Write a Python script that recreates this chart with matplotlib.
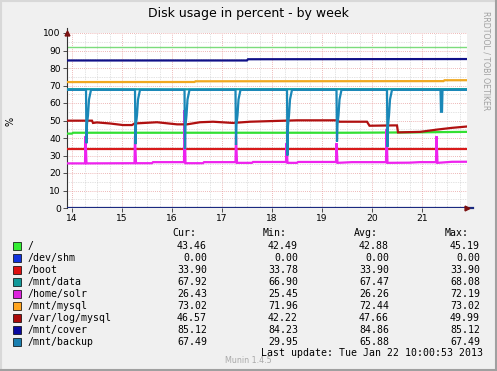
import numpy as np
import matplotlib
matplotlib.use("Agg")
import matplotlib.pyplot as plt
from matplotlib.patches import Rectangle
from matplotlib.lines import Line2D

W, H = 497, 371

# ---- series data (x in days of January, y in percent) ----
root_t = [13.9, 14.0, 14.02, 17.0, 19.5, 20.8, 21.5, 21.9]
root_v = [42.5, 42.5, 43.0, 43.0, 43.0, 43.2, 43.4, 43.5]

shm_t = [13.9, 21.9]
shm_v = [0.0, 0.0]

boot_t = [13.9, 21.9]
boot_v = [33.9, 33.9]

data_t = [13.9, 16.0, 18.0, 20.0, 21.9]
data_v = [67.9, 67.8, 67.9, 67.9, 67.92]

solr_t = [13.9, 14.26, 14.27, 14.29, 15.25, 15.26, 15.28, 15.6, 15.62,
          16.24, 16.25, 16.27, 16.62, 16.64, 17.27, 17.28, 17.30, 17.6,
          17.62, 18.28, 18.29, 18.31, 18.5, 18.52, 19.28, 19.29, 19.31,
          19.6, 20.28, 20.29, 20.31, 20.75, 20.95, 21.28, 21.29, 21.31,
          21.6, 21.9]
solr_v = [25.5, 25.5, 41.0, 25.5, 25.6, 41.0, 25.6, 25.6, 26.2,
          26.2, 56.0, 25.6, 25.6, 26.2, 26.2, 41.0, 25.8, 25.8,
          26.3, 26.3, 37.0, 25.8, 25.8, 26.3, 26.3, 37.0, 25.8,
          26.2, 26.2, 45.0, 25.8, 25.9, 26.2, 26.2, 41.0, 25.8,
          26.4, 26.43]

mysql_t = [13.9, 16.45, 16.47, 21.43, 21.45, 21.9]
mysql_v = [71.96, 72.0, 72.4, 72.5, 73.0, 73.02]

varlog_t = [13.9, 14.40, 14.42, 14.5, 14.76, 15.02, 15.2, 15.25, 15.7,
            16.1, 16.3, 16.56, 16.82, 17.22, 17.56, 18.02, 18.5, 19.3,
            19.35, 19.9, 19.95, 20.42, 20.5, 20.52, 20.96, 21.3, 21.6, 21.9]
varlog_v = [49.9, 49.9, 48.6, 48.9, 48.3, 47.4, 47.4, 48.3, 49.0,
            47.8, 47.8, 49.0, 49.3, 48.6, 49.3, 49.7, 50.1, 50.1,
            49.3, 49.3, 47.0, 47.2, 47.2, 43.2, 43.5, 44.8, 45.8, 46.57]

cover_t = [13.9, 17.5, 17.52, 21.9]
cover_v = [84.3, 84.3, 85.0, 85.12]

backup_t = [13.9,
            14.28, 14.29, 14.30, 14.32, 14.34, 14.38,
            15.26, 15.27, 15.28, 15.30, 15.32, 15.36,
            16.25, 16.26, 16.27, 16.29, 16.31, 16.35,
            17.27, 17.28, 17.29, 17.31, 17.33, 17.37,
            18.30, 18.31, 18.32, 18.34, 18.36, 18.40,
            19.29, 19.30, 19.31, 19.33, 19.35, 19.39,
            20.30, 20.31, 20.32, 20.34, 20.36, 20.40,
            21.37, 21.38, 21.40, 21.41,
            21.9]
backup_v = [67.5,
            67.5, 37.0, 48.0, 53.0, 62.0, 67.5,
            67.5, 36.5, 48.0, 53.0, 62.0, 67.5,
            67.5, 34.0, 47.0, 53.0, 62.0, 67.5,
            67.5, 36.0, 48.0, 53.0, 62.0, 67.5,
            67.5, 30.0, 47.0, 53.0, 62.0, 67.5,
            67.5, 38.0, 48.0, 53.0, 62.0, 67.5,
            67.5, 35.0, 47.0, 53.0, 62.0, 67.5,
            67.5, 55.0, 55.0, 67.5,
            67.49]

warn_level = 92

# ---- legend table ----
names = ["/", "/dev/shm", "/boot", "/mnt/data", "/home/solr", "/mnt/mysql",
         "/var/log/mysql", "/mnt/cover", "/mnt/backup"]
cur = ["43.46", "0.00", "33.90", "67.92", "26.43", "73.02", "46.57", "85.12", "67.49"]
mins = ["42.49", "0.00", "33.78", "66.90", "25.45", "71.96", "42.22", "84.23", "29.95"]
avgs = ["42.88", "0.00", "33.90", "67.47", "26.26", "72.44", "47.66", "84.86", "65.88"]
maxs = ["45.19", "0.00", "33.90", "68.08", "72.19", "73.02", "49.99", "85.12", "67.49"]
colors = ["#33ee33", "#1133dd", "#dd1111", "#119999", "#dd22dd", "#ffa520",
          "#aa0a0a", "#0a0aa0", "#1a7fb0"]
line_colors = ["#33e033", "#1a2a80", "#d81a1a", "#10a0a0", "#ee22ee", "#f0a820",
               "#b01010", "#101088", "#1a88b8"]

series = [(root_t, root_v), (shm_t, shm_v), (boot_t, boot_v), (data_t, data_v),
          (solr_t, solr_v), (mysql_t, mysql_v), (varlog_t, varlog_v),
          (cover_t, cover_v), (backup_t, backup_v)]

days = [14, 15, 16, 17, 18, 19, 20, 21]


def fx(px):
    return px / W


def fy(py):
    return 1 - py / H


fig = plt.figure(figsize=(W / 100, H / 100), dpi=100, facecolor="#f0f0f0")
ax = fig.add_axes([fx(67), fy(208), fx(467) - fx(67), fy(33) - fy(208)])
ax.set_facecolor("white")

ax.set_xlim(13.9, 21.9)
ax.set_ylim(0, 100)

# grid
ax.set_xticks(days)
ax.set_xticks(np.arange(14, 22, 0.25), minor=True)
ax.set_yticks(range(0, 101, 10))
ax.set_yticks(range(0, 101, 5), minor=True)
ax.grid(which="minor", color="#c8c8c8", linestyle=(0, (1, 1.5)), linewidth=0.5)
ax.grid(which="major", color="#e8a0a0", linestyle=(0, (1, 1.5)), linewidth=0.6)
ax.set_axisbelow(True)

ax.axhline(warn_level, color="#7cdc7c", linewidth=1.0, zorder=2)

for (t, v), c in zip(series, line_colors):
    ax.plot(t, v, color=c, linewidth=1.6, solid_joinstyle="miter", zorder=3)

for s in ["top", "right", "bottom"]:
    ax.spines[s].set_visible(False)
ax.spines["left"].set_color("#333333")
ax.spines["left"].set_linewidth(0.8)
ax.tick_params(axis="both", which="major", length=3, width=0.6, color="#333333",
               labelsize=6.6, pad=1.5)
ax.tick_params(axis="both", which="minor", length=0)
ax.set_xticklabels([str(d) for d in days])

# axis arrows
ax.plot([0], [1.0], marker="^", color="#7a1010", markersize=3.5, clip_on=False,
        transform=ax.transAxes, zorder=5)
ax.plot([1.0], [0], marker=">", color="#7a1010", markersize=3.5, clip_on=False,
        transform=ax.transAxes, zorder=5)
ax.plot([1.0, 1.015], [0, 0], color="#1a2a80", linewidth=1.6, clip_on=False,
        transform=ax.transAxes, zorder=4)
ax.plot([0, 0], [1.0, 1.03], color="#333333", linewidth=0.8, clip_on=False,
        transform=ax.transAxes, zorder=4)

fig.text(fx(248), fy(13), "Disk usage in percent - by week", ha="center",
         va="center", fontsize=9)
fig.text(fx(10), fy(121), "%", rotation=90, ha="center", va="center", fontsize=7)
fig.text(fx(486), fy(61), "RRDTOOL / TOBI OETIKER", rotation=270, ha="center",
         va="center", fontsize=5.6, color="#a0a0a0")

# legend table
mono = "DejaVu Sans Mono"
fs = 7.1
for hx, h in zip([172, 263, 354, 445], ["Cur:", "Min:", "Avg:", "Max:"]):
    fig.text(fx(hx), fy(233.5), h, family=mono, fontsize=fs, ha="left", va="center")
for i, name in enumerate(names):
    yc = 245.7 + 12 * i
    fig.patches.append(Rectangle((fx(13), fy(yc + 4)), fx(8), 8 / H,
                                 transform=fig.transFigure, facecolor=colors[i],
                                 edgecolor="black", linewidth=0.5))
    fig.text(fx(27), fy(yc), name, family=mono, fontsize=fs, ha="left", va="center")
    for vx, col in zip([207, 298, 389, 480], [cur, mins, avgs, maxs]):
        fig.text(fx(vx), fy(yc), col[i], family=mono, fontsize=fs, ha="right",
                 va="center")

fig.text(fx(483), fy(353.5), "Last update: Tue Jan 22 10:00:53 2013", family=mono,
         fontsize=fs, ha="right", va="center")
fig.text(fx(248), fy(360.5), "Munin 1.4.5", fontsize=5.8, ha="center", va="center",
         color="#aaaaaa")

# frame around the image
fig.add_artist(Line2D([0, 1], [fy(0.5), fy(0.5)], color="#d8d8d8", linewidth=1.5,
                      transform=fig.transFigure))
fig.add_artist(Line2D([fx(0.5), fx(0.5)], [0, 1], color="#d8d8d8", linewidth=1.5,
                      transform=fig.transFigure))
fig.add_artist(Line2D([0, 1], [fy(370), fy(370)], color="#a0a0a0", linewidth=1.5,
                      transform=fig.transFigure))
fig.add_artist(Line2D([fx(496), fx(496)], [0, 1], color="#a0a0a0", linewidth=1.5,
                      transform=fig.transFigure))

plt.savefig("out.png", dpi=100, facecolor=fig.get_facecolor())
